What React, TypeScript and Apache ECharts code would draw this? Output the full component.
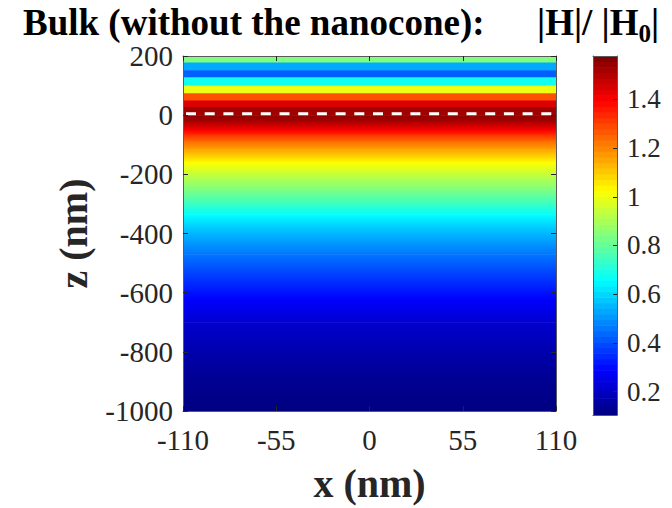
import React, { useEffect, useRef } from 'react';
import * as echarts from 'echarts';

// ---- data ----
const xTicks = [-110, -55, 0, 55, 110];
const zTicks = [-1000, -800, -600, -400, -200, 0, 200];
const colorRange = [0.104, 1.578];
const colorbarLevels = 64;

// air region (z > 0): stepwise bands, edges (nm) and |H|/|H0|
const airBandEdges = [200, 178, 152, 128, 100, 74, 50, 28, 0];
const airBandValues = [0.84, 0.534, 0.427, 0.68, 1.0, 1.28, 1.443, 1.53];

// bulk region (z < 0): smooth profile samples
const bulkZ = [0, -20, -35, -50, -65, -87, -115, -160, -200, -250, -300, -335, -380, -430, -470, -520, -620, -700, -800, -880, -1000];
const bulkValues = [1.56, 1.52, 1.46, 1.4, 1.33, 1.24, 1.16, 1.025, 0.94, 0.84, 0.74, 0.66, 0.58, 0.51, 0.46, 0.4, 0.29, 0.22, 0.17, 0.135, 0.105];

const interfaceZ = [0];

const FONT = 'Liberation Serif';

function clamp01(x: number) {
  return Math.max(0, Math.min(1, x));
}
function jet(v: number) {
  const t = clamp01((v - colorRange[0]) / (colorRange[1] - colorRange[0]));
  const r = clamp01(Math.min(4 * t - 1.5, -4 * t + 4.5));
  const g = clamp01(Math.min(4 * t - 0.5, -4 * t + 3.5));
  const b = clamp01(Math.min(4 * t + 0.5, -4 * t + 2.5));
  return `rgb(${Math.round(r * 255)},${Math.round(g * 255)},${Math.round(b * 255)})`;
}
function bandFill(vTop: number, vBot: number) {
  if (vTop === vBot) return jet(vTop);
  const stops = [];
  for (let k = 0; k <= 12; k++) {
    stops.push({ offset: k / 12, color: jet(vTop + ((vBot - vTop) * k) / 12) });
  }
  return new echarts.graphic.LinearGradient(0, 0, 0, 1, stops);
}

export default function App() {
  const ref = useRef<HTMLDivElement>(null);
  useEffect(() => {
    if (!ref.current) return;
    const chart = echarts.init(ref.current, undefined, { renderer: 'svg' });

    const rows: number[][] = [];
    for (let i = 0; i < airBandValues.length; i++) {
      rows.push([airBandEdges[i], airBandEdges[i + 1], airBandValues[i], airBandValues[i]]);
    }
    for (let i = 0; i < bulkZ.length - 1; i++) {
      rows.push([bulkZ[i], bulkZ[i + 1], bulkValues[i], bulkValues[i + 1]]);
    }
    const cbRows: number[][] = [];
    const step = (colorRange[1] - colorRange[0]) / colorbarLevels;
    for (let i = 0; i < colorbarLevels; i++) {
      cbRows.push([colorRange[0] + i * step, colorRange[0] + (i + 1) * step]);
    }

    const xMin = xTicks[0];
    const xMax = xTicks[xTicks.length - 1];
    const axisLineStyle = { color: '#5a5a5a', width: 1 };
    const tickStyle = { color: '#262626', width: 1 };
    const plainNum = (v: number) => String(Math.round(v * 1000) / 1000);

    chart.setOption({
      animation: false,
      backgroundColor: '#fff',
      textStyle: { fontFamily: FONT },
      title: [
        {
          text: 'Bulk (without the nanocone):',
          left: 23,
          top: 4,
          padding: 0,
          textStyle: { fontSize: 37, fontWeight: 'bold', fontFamily: FONT, color: '#000' },
        },
        {
          text: '{a||H|/ |H}{s|0}{a||}',
          left: 537,
          top: 4,
          padding: 0,
          textStyle: {
            fontFamily: FONT,
            rich: {
              a: { fontSize: 37, fontWeight: 'bold', fontFamily: FONT, color: '#000', padding: [0, 0, 5, 0] },
              s: { fontSize: 25, fontWeight: 'bold', fontFamily: FONT, color: '#000', verticalAlign: 'bottom' },
            },
          },
        },
      ],
      grid: [
        { left: 183, top: 56, width: 373, height: 358 },
        { left: 593, top: 56, width: 24, height: 359 },
      ],
      xAxis: [
        {
          gridIndex: 0,
          type: 'value',
          min: xMin,
          max: xMax,
          interval: 55,
          position: 'bottom',
          z: 10,
          axisLine: { show: true, onZero: false, lineStyle: axisLineStyle },
          axisTick: { show: true, inside: true, length: 5, lineStyle: tickStyle },
          axisLabel: { fontSize: 29, fontFamily: FONT, color: '#262626', margin: 14, formatter: plainNum },
          splitLine: { show: false },
          name: 'x (nm)',
          nameLocation: 'middle',
          nameGap: 52,
          nameTextStyle: { fontSize: 40, fontWeight: 'bold', fontFamily: FONT, color: '#262626' },
        },
        {
          gridIndex: 0,
          type: 'value',
          min: xMin,
          max: xMax,
          interval: 55,
          position: 'top',
          z: 10,
          axisLine: { show: true, onZero: false, lineStyle: axisLineStyle },
          axisTick: { show: true, inside: true, length: 5, lineStyle: tickStyle },
          axisLabel: { show: false },
          splitLine: { show: false },
        },
        {
          gridIndex: 1,
          type: 'value',
          min: 0,
          max: 1,
          position: 'bottom',
          z: 10,
          axisLine: { show: true, onZero: false, lineStyle: axisLineStyle },
          axisTick: { show: false },
          axisLabel: { show: false },
          splitLine: { show: false },
        },
        {
          gridIndex: 1,
          type: 'value',
          min: 0,
          max: 1,
          position: 'top',
          z: 10,
          axisLine: { show: true, onZero: false, lineStyle: axisLineStyle },
          axisTick: { show: false },
          axisLabel: { show: false },
          splitLine: { show: false },
        },
      ],
      yAxis: [
        {
          gridIndex: 0,
          type: 'value',
          min: zTicks[0],
          max: zTicks[zTicks.length - 1],
          interval: 200,
          position: 'left',
          z: 10,
          axisLine: { show: true, onZero: false, lineStyle: axisLineStyle },
          axisTick: { show: true, inside: true, length: 5, lineStyle: tickStyle },
          axisLabel: { fontSize: 29, fontFamily: FONT, color: '#262626', margin: 10, formatter: plainNum },
          splitLine: { show: false },
          name: 'z (nm)',
          nameLocation: 'middle',
          nameGap: 90,
          nameTextStyle: { fontSize: 40, fontWeight: 'bold', fontFamily: FONT, color: '#262626' },
        },
        {
          gridIndex: 0,
          type: 'value',
          min: zTicks[0],
          max: zTicks[zTicks.length - 1],
          interval: 200,
          position: 'right',
          z: 10,
          axisLine: { show: true, onZero: false, lineStyle: axisLineStyle },
          axisTick: { show: true, inside: true, length: 5, lineStyle: tickStyle },
          axisLabel: { show: false },
          splitLine: { show: false },
        },
        {
          gridIndex: 1,
          type: 'value',
          min: colorRange[0],
          max: colorRange[1],
          position: 'left',
          z: 10,
          axisLine: { show: true, onZero: false, lineStyle: axisLineStyle },
          axisTick: { show: false },
          axisLabel: { show: false },
          splitLine: { show: false },
        },
        {
          gridIndex: 1,
          type: 'value',
          min: colorRange[0],
          max: colorRange[1],
          splitNumber: 7,
          position: 'right',
          z: 10,
          axisLine: { show: true, onZero: false, lineStyle: axisLineStyle },
          axisTick: { show: true, inside: true, length: 4, lineStyle: tickStyle },
          axisLabel: {
            fontSize: 27,
            fontFamily: FONT,
            color: '#262626',
            margin: 10,
            showMinLabel: false,
            showMaxLabel: false,
            formatter: plainNum,
          },
          splitLine: { show: false },
        },
      ],
      series: [
        {
          type: 'custom',
          xAxisIndex: 0,
          yAxisIndex: 0,
          clip: true,
          silent: true,
          data: rows,
          renderItem: (params: any, api: any) => {
            const zTop = api.value(0);
            const zBot = api.value(1);
            const vTop = api.value(2);
            const vBot = api.value(3);
            const p0 = api.coord([xMin, zTop]);
            const p1 = api.coord([xMax, zBot]);
            return {
              type: 'rect',
              shape: { x: p0[0], y: p0[1], width: p1[0] - p0[0], height: p1[1] - p0[1] + 0.6 },
              style: { fill: bandFill(vTop, vBot) },
            };
          },
        },
        {
          type: 'custom',
          xAxisIndex: 0,
          yAxisIndex: 0,
          z: 5,
          silent: true,
          data: interfaceZ.map((z) => [z]),
          renderItem: (params: any, api: any) => {
            const z = api.value(0);
            const a = api.coord([xMin, z]);
            const b = api.coord([xMax, z]);
            return {
              type: 'line',
              shape: { x1: a[0] + 3, y1: a[1] - 1.5, x2: b[0], y2: b[1] - 1.5 },
              style: { stroke: '#ffffff', lineWidth: 3, lineDash: [10, 8.7], fill: null },
            };
          },
        },
        {
          type: 'custom',
          xAxisIndex: 2,
          yAxisIndex: 3,
          clip: true,
          silent: true,
          data: cbRows,
          renderItem: (params: any, api: any) => {
            const v0 = api.value(0);
            const v1 = api.value(1);
            const p0 = api.coord([0, v1]);
            const p1 = api.coord([1, v0]);
            return {
              type: 'rect',
              shape: { x: p0[0], y: p0[1], width: p1[0] - p0[0], height: p1[1] - p0[1] + 0.6 },
              style: { fill: jet((v0 + v1) / 2) },
            };
          },
        },
      ],
    });
    return () => chart.dispose();
  }, []);
  return (
    <div
      ref={ref}
      style={{ position: 'absolute', left: 0, top: 0, width: 672, height: 508, background: '#fff' }}
    />
  );
}
